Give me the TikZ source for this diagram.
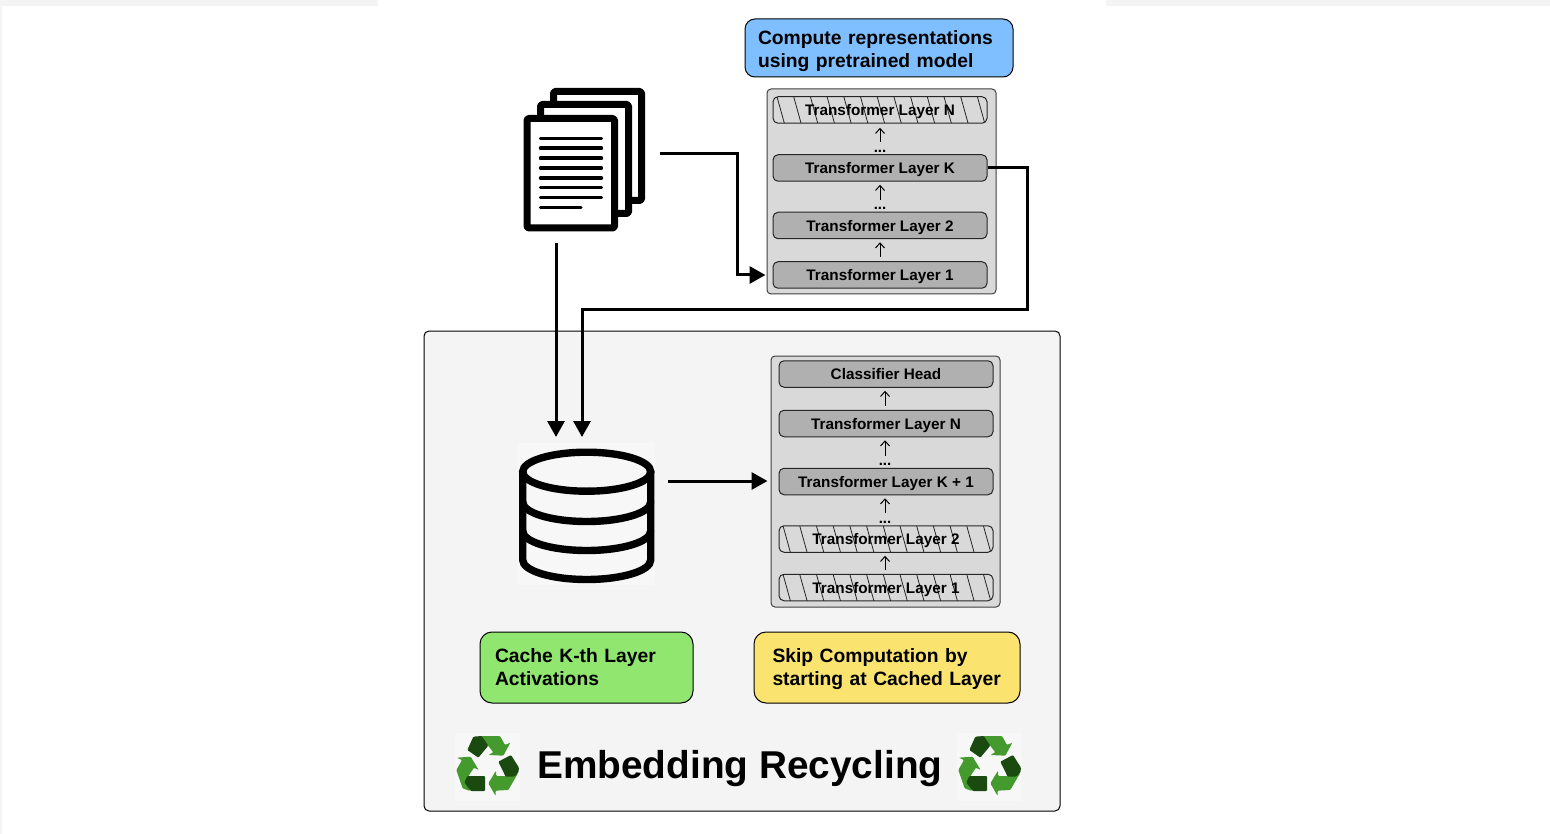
\documentclass[tikz,border=0pt]{standalone}
\usepackage{fontspec}
\setmainfont{Liberation Sans}
\usetikzlibrary{arrows.meta,calc}
\definecolor{pagegray}{HTML}{F4F4F4}
\definecolor{iconbg}{HTML}{F7F7F7}
\definecolor{panelgray}{HTML}{D9D9D9}
\definecolor{layergray}{HTML}{B0B0B0}
\definecolor{notegreen}{HTML}{90E66F}
\definecolor{noteyellow}{HTML}{FBE36F}
\definecolor{noteblue}{HTML}{80BFFF}
\definecolor{recdark}{HTML}{1B4A10}
\definecolor{reclight}{HTML}{449A2C}
\tikzset{
  x=1pt,y=-1pt,
  panelbox/.style={draw=black!75,line width=1pt,fill=panelgray,rounded corners=4pt,minimum width=229pt,inner sep=0pt},
  layerbox/.style={draw=black!85,line width=1pt,fill=layergray,rounded corners=5pt,minimum width=214pt,minimum height=26.5pt,inner sep=0pt,text height=11.5pt,text depth=0pt,font=\fontsize{15.3}{18}\selectfont\bfseries},
  hatchbox/.style={layerbox,fill=none,path picture={
    \foreach \i in {0,...,12}{
      \draw[black!85,line width=.8pt] ($(path picture bounding box.north west)+(4+16.7*\i,0)$) -- ++(7.5,27);
    }}},
  notebox/.style={draw=black,line width=1pt,inner sep=0pt,align=left,font=\fontsize{19.3}{23}\selectfont\bfseries},
  flow/.style={line width=3pt,-{Triangle[length=16pt,width=17pt]}},
  thinup/.style={line width=1pt,-{Straight Barb[length=5pt,width=9pt]}},
  dots/.style={inner sep=0pt,font=\fontsize{15}{15}\selectfont\bfseries},
  page/.style={draw=black,line width=7pt,fill=white,rounded corners=1.5pt,line join=round},
  textline/.style={line width=3.4pt,line cap=round},
  dbline/.style={line width=7.4pt,line cap=round},
  recycle/.pic={
    \fill[iconbg] (45,25) rectangle (240,228);
    \begin{scope}[rounded corners=1pt]
    \fill[reclight] (120,33) -- (180,33) -- (195,60) -- (211,53) -- (190,92) -- (145,90) -- (160,82) -- (135,50) -- cycle;
    \fill[recdark] (100,35) -- (125,33) -- (145,62) -- (115,98) -- (82,75) -- cycle;
    \fill[reclight] (50,98) -- (92,95) -- (116,135) -- (102,128) -- (82,158) -- (90,198) -- (68,190) -- (49,135) -- (66,105) -- cycle;
    \fill[recdark] (82,153) -- (135,153) -- (135,198) -- (92,198) -- (73,172) -- cycle;
    \fill[reclight] (234,145) -- (205,195) -- (167,197) -- (167,213) -- (145,175) -- (168,137) -- (168,153) -- (200,153) -- cycle;
    \fill[recdark] (213,90) -- (237,128) -- (235,143) -- (222,155) -- (197,155) -- (175,110) -- cycle;
    \end{scope}
  }
}
\begin{document}
\begin{tikzpicture}
\useasboundingbox (0,0) rectangle (1550,834);
\fill[white] (0,0) rectangle (1550,834);
\fill[pagegray] (0,0) rectangle (378,6);
\fill[pagegray] (1106,0) rectangle (1550,6);
\fill[pagegray] (0,0) rectangle (2,834);

% lower panel
\node[draw=black,line width=1pt,fill=pagegray,rounded corners=5pt,minimum width=636pt,minimum height=480pt,inner sep=0pt] (cachepanel) at (742,571) {};

% notes
\node[notebox,fill=noteblue,rounded corners=10pt,minimum width=268pt,minimum height=58pt,text width=242pt] (notecompute) at (879,48) {\rule{0pt}{20pt}Compute representations\\using pretrained model};
\node[notebox,fill=notegreen,rounded corners=12pt,minimum width=213pt,minimum height=71pt,text width=183pt] (notecache) at (586.5,667.5) {Cache K-th Layer\\Activations};
\node[notebox,fill=noteyellow,rounded corners=12pt,minimum width=266pt,minimum height=71pt,text width=229pt] (noteskip) at (887,667.5) {\rule{0pt}{18pt}Skip Computation by\\starting at Cached Layer};

% upper model
\node[panelbox,minimum height=205pt] (modelA) at (881.5,191.5) {};
\node[hatchbox] (an) at (880,110) {Transformer Layer N};
\node[layerbox] (ak) at (880,168) {Transformer Layer K};
\node[layerbox] (a2) at (880,225.5) {Transformer Layer 2};
\node[layerbox] (a1) at (880,275) {Transformer Layer 1};
\draw[thinup,shorten <=12pt,shorten >=4pt] (ak.north) -- (an.south);
\draw[thinup,shorten <=12pt,shorten >=3pt] (a2.north) -- (ak.south);
\draw[thinup,shorten <=4pt,shorten >=3pt] (a1.north) -- (a2.south);
\node[dots] (adots1) at (880,151.5) {...};
\node[dots] (adots2) at (880,208.5) {...};

% lower model
\node[panelbox,minimum height=251pt] (modelB) at (885.5,481.5) {};
\node[layerbox] (bh) at (886,374) {Classifier Head};
\node[layerbox] (bn) at (886,423.5) {Transformer Layer N};
\node[layerbox] (bk) at (886,481.5) {Transformer Layer K + 1};
\node[hatchbox] (b2) at (886,539) {Transformer Layer 2};
\node[hatchbox] (b1) at (886,587.5) {Transformer Layer 1};
\draw[thinup,shorten <=4pt,shorten >=3pt] (bn.north -| bh.north) ++(-1,0) coordinate (bnt) -- (bh.south -| bnt);
\draw[thinup,shorten <=12pt,shorten >=3pt] (bk.north) ++(-1,0) coordinate (bkt) -- (bn.south -| bkt);
\draw[thinup,shorten <=12pt,shorten >=3pt] (b2.north) ++(-1,0) coordinate (b2t) -- (bk.south -| b2t);
\draw[thinup,shorten <=4pt,shorten >=3pt] (b1.north) ++(-1,0) coordinate (b1t) -- (b2.south -| b1t);
\node[dots] (bdots1) at (885,464.5) {...};
\node[dots] (bdots2) at (885,522.5) {...};

% documents icon
\draw[page] (553.5,91.5) rectangle (641.5,200.5);
\draw[page] (540.5,104.5) rectangle (628.5,213.5);
\draw[page] (527,118.5) rectangle (614.5,228);
\foreach \y in {138.3,148.2,158.2,168,178,187.7,197.7}{
  \draw[textline] (540.5,\y) -- (601.5,\y);
}
\draw[textline] (540.5,207.6) -- (581,207.6);

% database icon
\fill[iconbg] (518,443) rectangle (655,585);
\draw[dbline] (586.7,471.7) ellipse [x radius=64,y radius=19.5];
\draw[dbline] (522.7,471.7) -- (522.7,560) arc [start angle=180,end angle=360,x radius=64,y radius=-19.5] -- (650.7,471.7);
\draw[dbline] (522.7,502) arc [start angle=180,end angle=360,x radius=64,y radius=-19.5];
\draw[dbline] (522.7,531) arc [start angle=180,end angle=360,x radius=64,y radius=-19.5];

% connector ends
\coordinate (docsright) at (660,154);
\coordinate (docsbottom) at (556,243);
\coordinate (dbtopA) at (556,437);
\coordinate (dbtopB) at (582,437);
\coordinate (dbright) at (668,481);
\coordinate (bendA) at (737,154);
\coordinate (bendB) at (1027,168);
\coordinate (bendC) at (1027,310);
\coordinate (bendD) at (582,310);

\draw[flow] (docsright) -- (bendA) |- ($(modelA.west |- a1.west)+(-1,0)$);
\draw[flow] (ak.east) -- (bendB) -- (bendC) -- (bendD) -- (dbtopB);
\draw[flow] (docsbottom) -- (dbtopA);
\draw[flow] (dbright) -- ($(modelB.west |- dbright)+(-3,0)$);

% title
\pic[shift={(440,725)},scale=1/3] {recycle};
\pic[shift={(942,725)},scale=1/3] {recycle};
\node[inner sep=0pt,anchor=west,font=\fontsize{38.8}{44}\selectfont\bfseries] (title) at (537,769) {Embedding Recycling};
\end{tikzpicture}
\end{document}
